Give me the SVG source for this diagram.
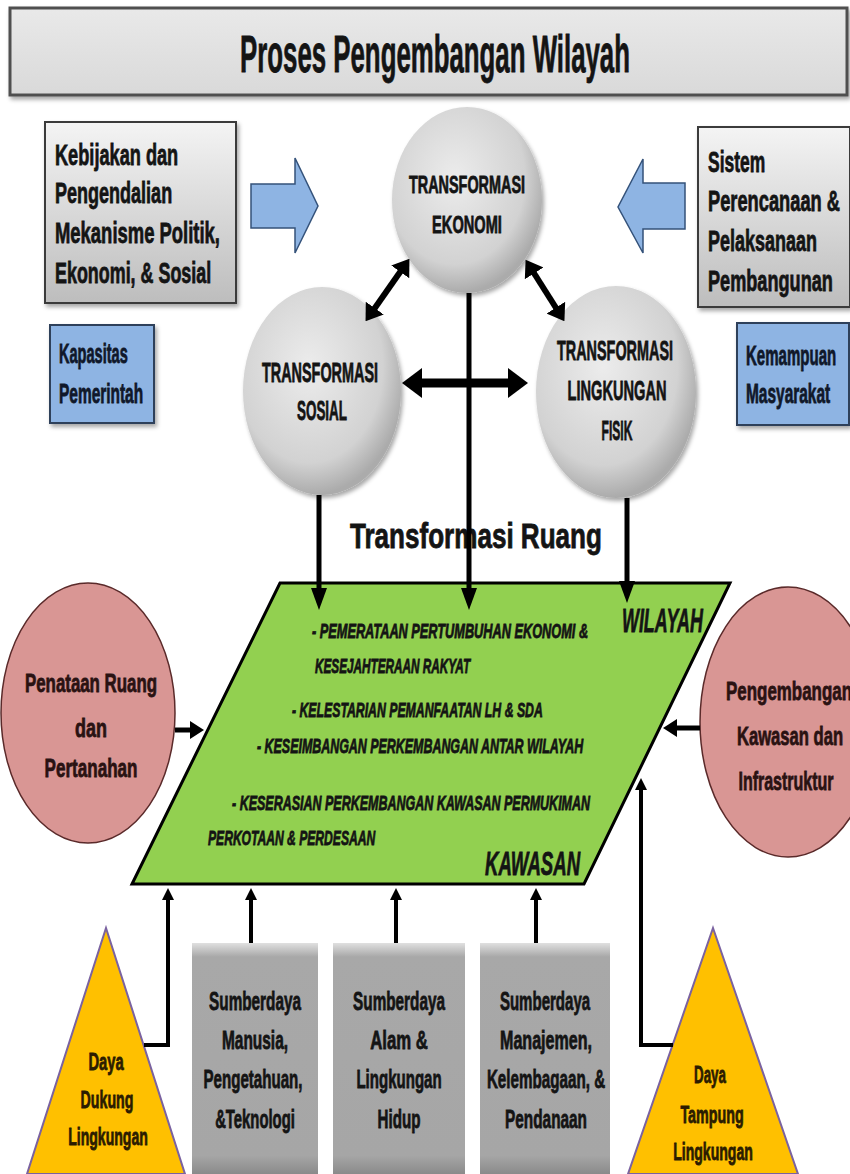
<svg xmlns="http://www.w3.org/2000/svg" width="850" height="1174" viewBox="0 0 850 1174">
<style>
text{font-family:"Liberation Sans","DejaVu Sans",sans-serif;font-weight:bold;fill:#141414;stroke:#141414;stroke-width:0.8}
.m{text-anchor:middle}
.box{fill:url(#gbox);stroke:#3a3a3a;stroke-width:2;filter:url(#sh)}
.blue{fill:#8EB4E3;stroke:#2f3f5a;stroke-width:2;filter:url(#sh)}
.barrow{fill:#8EB4E3;stroke:#34527a;stroke-width:1.5}
.gc{fill:url(#gcirc);filter:url(#sh)}
.pink{fill:#D99694;stroke:#5a2a2a;stroke-width:1.5}
.tri{fill:#FFC000;stroke:#7a62a0;stroke-width:2}
.sbox{fill:url(#sbox)}
.it{font-style:italic}
.c{fill:none;stroke:#000}
.pt{fill:#2a1212;stroke:#2a1212}
.tt{fill:#2b1c00;stroke:#2b1c00}
.bt{fill:#10182a;stroke:#10182a}
</style>
<defs>
<linearGradient id="gbox" x1="0" y1="0" x2="0" y2="1">
<stop offset="0" stop-color="#f4f4f4"/><stop offset="1" stop-color="#bdbdbd"/>
</linearGradient>
<linearGradient id="tbox" x1="0" y1="0" x2="0" y2="1">
<stop offset="0" stop-color="#e9e9e9"/><stop offset="1" stop-color="#d9d9d9"/>
</linearGradient>
<linearGradient id="sbox" x1="0" y1="0" x2="0" y2="1">
<stop offset="0" stop-color="#e0e0e0"/><stop offset="0.06" stop-color="#a8a8a8"/><stop offset="0.92" stop-color="#a6a6a6"/><stop offset="1" stop-color="#8a8a8a"/>
</linearGradient>
<radialGradient id="gcirc" cx="0.42" cy="0.38" r="0.62">
<stop offset="0" stop-color="#ececec"/><stop offset="0.75" stop-color="#d2d2d2"/><stop offset="1" stop-color="#ababab"/>
</radialGradient>
<filter id="sh" x="-10%" y="-10%" width="125%" height="125%">
<feDropShadow dx="2" dy="3" stdDeviation="2" flood-color="#000" flood-opacity="0.35"/>
</filter>
<marker id="a1" markerUnits="userSpaceOnUse" markerWidth="22" markerHeight="16" viewBox="0 0 22 16" refX="1" refY="8" orient="auto-start-reverse"><path d="M0,0 L22,8 L0,16 z" fill="#000"/></marker>
<marker id="a2" markerUnits="userSpaceOnUse" markerWidth="12" markerHeight="12" viewBox="0 0 12 12" refX="1" refY="6" orient="auto-start-reverse"><path d="M0,0 L12,6 L0,12 z" fill="#000"/></marker>
<marker id="a3" markerUnits="userSpaceOnUse" markerWidth="20" markerHeight="30" viewBox="0 0 20 30" refX="1" refY="15" orient="auto-start-reverse"><path d="M0,0 L20,15 L0,30 z" fill="#000"/></marker>
<marker id="a4" markerUnits="userSpaceOnUse" markerWidth="14" markerHeight="18" viewBox="0 0 14 18" refX="1" refY="9" orient="auto-start-reverse"><path d="M0,0 L14,9 L0,18 z" fill="#000"/></marker>
<marker id="a5" markerUnits="userSpaceOnUse" markerWidth="16" markerHeight="22" viewBox="0 0 16 22" refX="1" refY="11" orient="auto-start-reverse"><path d="M0,0 L16,11 L0,22 z" fill="#000"/></marker>
</defs>
<rect width="850" height="1174" fill="#fff"/>

<g id="title">
<rect x="10" y="8" width="837" height="87" fill="url(#tbox)" stroke="#505050" stroke-width="3" filter="url(#sh)"/>
<text class="m" transform="matrix(0.55 0 0 1 435 0)" x="0" y="72" font-size="52" textLength="709" lengthAdjust="spacingAndGlyphs">Proses Pengembangan Wilayah</text>
</g>

<g id="kebijakan">
<rect class="box" x="45" y="122" width="191" height="181"/>
<text transform="matrix(0.55 0 0 1 55 0)" x="0" y="165" font-size="30" textLength="224" lengthAdjust="spacingAndGlyphs">Kebijakan dan</text>
<text transform="matrix(0.55 0 0 1 55 0)" x="0" y="203" font-size="30" textLength="213" lengthAdjust="spacingAndGlyphs">Pengendalian</text>
<text transform="matrix(0.55 0 0 1 55 0)" x="0" y="243" font-size="30" textLength="300" lengthAdjust="spacingAndGlyphs">Mekanisme Politik,</text>
<text transform="matrix(0.55 0 0 1 55 0)" x="0" y="283" font-size="30" textLength="284" lengthAdjust="spacingAndGlyphs">Ekonomi, &amp; Sosial</text>
</g>

<g id="sistem">
<rect class="box" x="698" y="127" width="152" height="180"/>
<text transform="matrix(0.55 0 0 1 708 0)" x="0" y="172" font-size="29" textLength="104" lengthAdjust="spacingAndGlyphs">Sistem</text>
<text transform="matrix(0.55 0 0 1 708 0)" x="0" y="211" font-size="29" textLength="240" lengthAdjust="spacingAndGlyphs">Perencanaan &amp;</text>
<text transform="matrix(0.55 0 0 1 708 0)" x="0" y="251" font-size="29" textLength="198" lengthAdjust="spacingAndGlyphs">Pelaksanaan</text>
<text transform="matrix(0.55 0 0 1 708 0)" x="0" y="291" font-size="29" textLength="227" lengthAdjust="spacingAndGlyphs">Pembangunan</text>
</g>

<g id="kapasitas">
<rect class="blue" x="50" y="325" width="104" height="98"/>
<text class="bt" transform="matrix(0.55 0 0 1 59 0)" x="0" y="363" font-size="27" textLength="125" lengthAdjust="spacingAndGlyphs">Kapasitas</text>
<text class="bt" transform="matrix(0.55 0 0 1 59 0)" x="0" y="403" font-size="27" textLength="153" lengthAdjust="spacingAndGlyphs">Pemerintah</text>
</g>

<g id="kemampuan">
<rect class="blue" x="737" y="323" width="112" height="102"/>
<text class="bt" transform="matrix(0.55 0 0 1 746 0)" x="0" y="365" font-size="27" textLength="164" lengthAdjust="spacingAndGlyphs">Kemampuan</text>
<text class="bt" transform="matrix(0.55 0 0 1 746 0)" x="0" y="403" font-size="27" textLength="153" lengthAdjust="spacingAndGlyphs">Masyarakat</text>
</g>

<g id="arrow-left">
<polygon class="barrow" points="251,184 295,184 295,158 318,206 295,253 295,228 251,228"/>
</g>
<g id="arrow-right">
<polygon class="barrow" points="685,183 643,183 643,159 618,207 643,253 643,229 685,229"/>
</g>

<g id="ekonomi">
<ellipse class="gc" cx="467" cy="200" rx="75" ry="93"/>
<text class="m" transform="matrix(0.55 0 0 1 467 0)" x="0" y="193" font-size="24" textLength="211" lengthAdjust="spacingAndGlyphs">TRANSFORMASI</text>
<text class="m" transform="matrix(0.55 0 0 1 467 0)" x="0" y="233" font-size="24" textLength="127" lengthAdjust="spacingAndGlyphs">EKONOMI</text>
</g>

<g id="sosial">
<ellipse class="gc" cx="322" cy="391" rx="79" ry="104"/>
<text class="m" transform="matrix(0.55 0 0 1 320 0)" x="0" y="382" font-size="28" textLength="211" lengthAdjust="spacingAndGlyphs">TRANSFORMASI</text>
<text class="m" transform="matrix(0.55 0 0 1 322 0)" x="0" y="420" font-size="28" textLength="91" lengthAdjust="spacingAndGlyphs">SOSIAL</text>
</g>

<g id="fisik">
<ellipse class="gc" cx="616" cy="392" rx="80" ry="106"/>
<text class="m" transform="matrix(0.55 0 0 1 615 0)" x="0" y="360" font-size="28" textLength="211" lengthAdjust="spacingAndGlyphs">TRANSFORMASI</text>
<text class="m" transform="matrix(0.55 0 0 1 617 0)" x="0" y="400" font-size="28" textLength="180" lengthAdjust="spacingAndGlyphs">LINGKUNGAN</text>
<text class="m" transform="matrix(0.55 0 0 1 617 0)" x="0" y="440" font-size="28" textLength="56" lengthAdjust="spacingAndGlyphs">FISIK</text>
</g>

<g id="transformasi-ruang">
<text transform="matrix(0.55 0 0 1 350 0)" x="0" y="548" font-size="35" textLength="458" lengthAdjust="spacingAndGlyphs">Transformasi Ruang</text>
</g>

<g id="wilayah-kawasan">
<polygon points="280,583 730,583 584,884 132,884" fill="#92D050" stroke="#000" stroke-width="3"/>
<text class="it" transform="matrix(0.55 0 0 1 312 0)" x="0" y="638" font-size="20" textLength="502" lengthAdjust="spacingAndGlyphs">- PEMERATAAN PERTUMBUHAN EKONOMI &amp;</text>
<text class="it" transform="matrix(0.55 0 0 1 315 0)" x="0" y="673" font-size="20" textLength="282" lengthAdjust="spacingAndGlyphs">KESEJAHTERAAN RAKYAT</text>
<text class="it" transform="matrix(0.55 0 0 1 292 0)" x="0" y="717" font-size="20" textLength="456" lengthAdjust="spacingAndGlyphs">- KELESTARIAN PEMANFAATAN LH &amp; SDA</text>
<text class="it" transform="matrix(0.55 0 0 1 257 0)" x="0" y="753" font-size="20" textLength="593" lengthAdjust="spacingAndGlyphs">- KESEIMBANGAN PERKEMBANGAN ANTAR WILAYAH</text>
<text class="it" transform="matrix(0.55 0 0 1 232 0)" x="0" y="810" font-size="20" textLength="651" lengthAdjust="spacingAndGlyphs">- KESERASIAN PERKEMBANGAN KAWASAN PERMUKIMAN</text>
<text class="it" transform="matrix(0.55 0 0 1 208 0)" x="0" y="845" font-size="20" textLength="304" lengthAdjust="spacingAndGlyphs">PERKOTAAN &amp; PERDESAAN</text>
<text class="it" transform="matrix(0.55 0 0 1 622 0)" x="0" y="632" font-size="34" textLength="147" lengthAdjust="spacingAndGlyphs">WILAYAH</text>
<text class="it" transform="matrix(0.55 0 0 1 485 0)" x="0" y="875" font-size="34" textLength="173" lengthAdjust="spacingAndGlyphs">KAWASAN</text>
</g>

<g id="penataan">
<ellipse class="pink" cx="88" cy="713" rx="87" ry="130"/>
<text class="m pt" transform="matrix(0.55 0 0 1 91 0)" x="0" y="692" font-size="26" textLength="240" lengthAdjust="spacingAndGlyphs">Penataan Ruang</text>
<text class="m pt" transform="matrix(0.55 0 0 1 91 0)" x="0" y="737" font-size="26" textLength="58" lengthAdjust="spacingAndGlyphs">dan</text>
<text class="m pt" transform="matrix(0.55 0 0 1 91 0)" x="0" y="777" font-size="26" textLength="169" lengthAdjust="spacingAndGlyphs">Pertanahan</text>
</g>

<g id="pengembangan">
<ellipse class="pink" cx="788" cy="722" rx="88" ry="135"/>
<text class="m pt" transform="matrix(0.55 0 0 1 789 0)" x="0" y="700" font-size="26" textLength="229" lengthAdjust="spacingAndGlyphs">Pengembangan</text>
<text class="m pt" transform="matrix(0.55 0 0 1 790 0)" x="0" y="745" font-size="26" textLength="193" lengthAdjust="spacingAndGlyphs">Kawasan dan</text>
<text class="m pt" transform="matrix(0.55 0 0 1 786 0)" x="0" y="790" font-size="26" textLength="173" lengthAdjust="spacingAndGlyphs">Infrastruktur</text>
</g>

<g id="sd-manusia">
<rect class="sbox" x="192" y="943" width="126" height="231"/>
<text class="m" transform="matrix(0.55 0 0 1 255 0)" x="0" y="1010" font-size="26" textLength="167" lengthAdjust="spacingAndGlyphs">Sumberdaya</text>
<text class="m" transform="matrix(0.55 0 0 1 255 0)" x="0" y="1049" font-size="26" textLength="120" lengthAdjust="spacingAndGlyphs">Manusia,</text>
<text class="m" transform="matrix(0.55 0 0 1 253 0)" x="0" y="1088" font-size="26" textLength="180" lengthAdjust="spacingAndGlyphs">Pengetahuan,</text>
<text class="m" transform="matrix(0.55 0 0 1 255 0)" x="0" y="1128" font-size="26" textLength="145" lengthAdjust="spacingAndGlyphs">&amp;Teknologi</text>
</g>

<g id="sd-alam">
<rect class="sbox" x="333" y="943" width="132" height="231"/>
<text class="m" transform="matrix(0.55 0 0 1 399 0)" x="0" y="1010" font-size="26" textLength="167" lengthAdjust="spacingAndGlyphs">Sumberdaya</text>
<text class="m" transform="matrix(0.55 0 0 1 399 0)" x="0" y="1049" font-size="26" textLength="105" lengthAdjust="spacingAndGlyphs">Alam &amp;</text>
<text class="m" transform="matrix(0.55 0 0 1 399 0)" x="0" y="1088" font-size="26" textLength="155" lengthAdjust="spacingAndGlyphs">Lingkungan</text>
<text class="m" transform="matrix(0.55 0 0 1 399 0)" x="0" y="1128" font-size="26" textLength="78" lengthAdjust="spacingAndGlyphs">Hidup</text>
</g>

<g id="sd-manajemen">
<rect class="sbox" x="480" y="943" width="130" height="231"/>
<text class="m" transform="matrix(0.55 0 0 1 545 0)" x="0" y="1010" font-size="26" textLength="164" lengthAdjust="spacingAndGlyphs">Sumberdaya</text>
<text class="m" transform="matrix(0.55 0 0 1 546 0)" x="0" y="1049" font-size="26" textLength="167" lengthAdjust="spacingAndGlyphs">Manajemen,</text>
<text class="m" transform="matrix(0.55 0 0 1 546 0)" x="0" y="1088" font-size="26" textLength="215" lengthAdjust="spacingAndGlyphs">Kelembagaan, &amp;</text>
<text class="m" transform="matrix(0.55 0 0 1 546 0)" x="0" y="1128" font-size="26" textLength="149" lengthAdjust="spacingAndGlyphs">Pendanaan</text>
</g>

<g id="daya-dukung">
<polygon class="tri" points="106,928 185,1174 27,1174"/>
<text class="m tt" transform="matrix(0.55 0 0 1 106 0)" x="0" y="1070" font-size="24" textLength="64" lengthAdjust="spacingAndGlyphs">Daya</text>
<text class="m tt" transform="matrix(0.55 0 0 1 107 0)" x="0" y="1108" font-size="24" textLength="96" lengthAdjust="spacingAndGlyphs">Dukung</text>
<text class="m tt" transform="matrix(0.55 0 0 1 108 0)" x="0" y="1145" font-size="24" textLength="145" lengthAdjust="spacingAndGlyphs">Lingkungan</text>
</g>

<g id="daya-tampung">
<polygon class="tri" points="713,928 798,1174 628,1174"/>
<text class="m tt" transform="matrix(0.55 0 0 1 710 0)" x="0" y="1083" font-size="24" textLength="58" lengthAdjust="spacingAndGlyphs">Daya</text>
<text class="m tt" transform="matrix(0.55 0 0 1 712 0)" x="0" y="1123" font-size="24" textLength="115" lengthAdjust="spacingAndGlyphs">Tampung</text>
<text class="m tt" transform="matrix(0.55 0 0 1 713 0)" x="0" y="1160" font-size="24" textLength="145" lengthAdjust="spacingAndGlyphs">Lingkungan</text>
</g>

<g id="connectors">
<line class="c" x1="400.8" y1="271.1" x2="374.2" y2="308.9" stroke-width="6" marker-start="url(#a5)" marker-end="url(#a5)"/>
<line class="c" x1="533.6" y1="272.5" x2="556.4" y2="308.5" stroke-width="6" marker-start="url(#a5)" marker-end="url(#a5)"/>
<line class="c" x1="421" y1="383" x2="509" y2="383" stroke-width="9" marker-start="url(#a3)" marker-end="url(#a3)"/>
<line class="c" x1="469" y1="293" x2="469" y2="589" stroke-width="5" marker-end="url(#a1)"/>
<line class="c" x1="319" y1="495" x2="319" y2="589" stroke-width="5" marker-end="url(#a1)"/>
<line class="c" x1="627" y1="498" x2="627" y2="582" stroke-width="5" marker-end="url(#a1)"/>
<line class="c" x1="175" y1="730" x2="191" y2="730" stroke-width="5" marker-end="url(#a4)"/>
<line class="c" x1="700" y1="728" x2="676" y2="728" stroke-width="5" marker-end="url(#a4)"/>
<path class="c" d="M144,1045 H168 V899" stroke-width="4" marker-end="url(#a2)"/>
<line class="c" x1="251" y1="943" x2="251" y2="899" stroke-width="4" marker-end="url(#a2)"/>
<line class="c" x1="396" y1="943" x2="396" y2="899" stroke-width="4" marker-end="url(#a2)"/>
<line class="c" x1="536" y1="943" x2="536" y2="899" stroke-width="4" marker-end="url(#a2)"/>
<path class="c" d="M673,1045 H641 V789" stroke-width="4" marker-end="url(#a2)"/>
</g>
</svg>
